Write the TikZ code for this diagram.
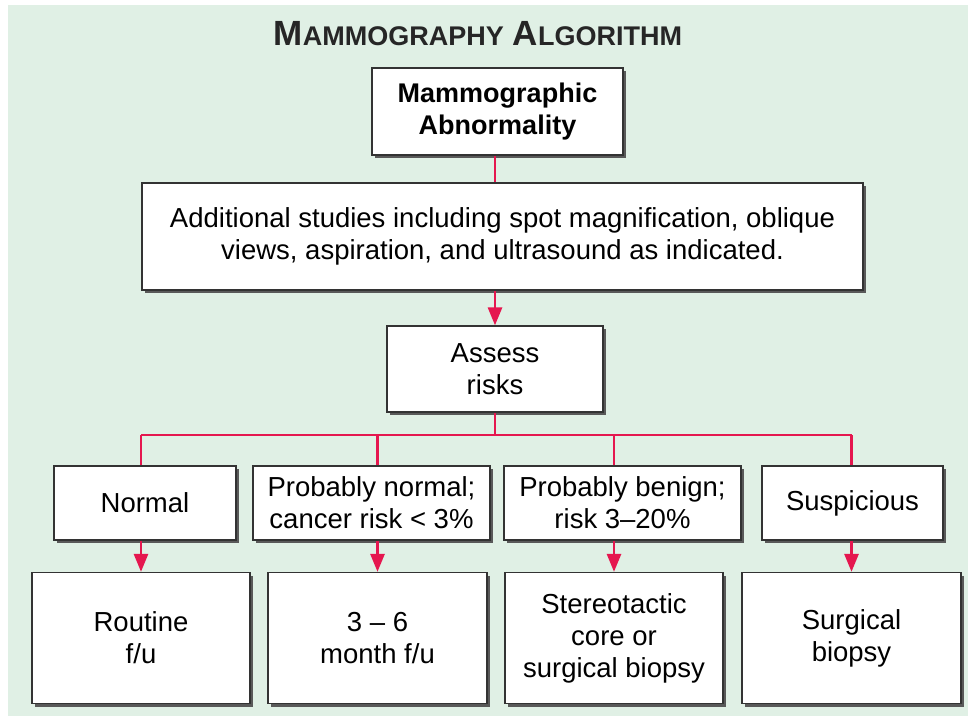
\documentclass[tikz,border=0pt]{standalone}
\usepackage{fontspec}
\setmainfont{Liberation Sans}
\usetikzlibrary{shadows,arrows.meta}
\definecolor{bggreen}{HTML}{E0F0E5}
\definecolor{linkred}{HTML}{E5174F}
\definecolor{boxedge}{HTML}{333333}
\tikzset{
  box/.style={draw=boxedge, fill=white, line width=1.3pt, align=center, inner sep=2pt,
    drop shadow={shadow xshift=3pt, shadow yshift=-3pt, fill=black!65, opacity=1},
    font=\fontsize{27.5}{32}\selectfont},
  link/.style={draw=linkred, line width=2.8pt},
  arr/.style={link, -{Triangle[width=14pt,length=18pt]}},
}
\begin{document}
\begin{tikzpicture}[x=1pt,y=-1pt]
\useasboundingbox (0,0) rectangle (968,719);
\fill[white] (0,0) rectangle (968,719);
\fill[bggreen] (8,5) rectangle (968,716);
\node[font=\bfseries, text=black!85] (title) at (478,34) {{\fontsize{35}{35}\selectfont M}{\fontsize{27}{27}\selectfont AMMOGRAPHY}\hspace{9pt}{\fontsize{35}{35}\selectfont A}{\fontsize{27}{27}\selectfont LGORITHM}};
\node[box, minimum width=251, minimum height=87, font=\fontsize{27}{32}\selectfont\bfseries] (b1) at (497.5,111.5) {Mammographic\\Abnormality};
\node[box, minimum width=721, minimum height=107] (b2) at (502.5,236.5) {Additional studies including spot magnification, oblique\\views, aspiration, and ultrasound as indicated.};
\node[box, minimum width=216, minimum height=86] (b3) at (495,369) {Assess\\risks};
\node[box, minimum width=182, minimum height=74] (n1) at (145,503) {Normal};
\node[box, minimum width=237, minimum height=74] (n2) at (371.5,503) {Probably normal;\\cancer risk < 3\%};
\node[box, minimum width=237, minimum height=74] (n3) at (622.5,503) {Probably benign;\\risk 3–20\%};
\node[box, minimum width=181, minimum height=74] (n4) at (852.5,503) {Suspicious};
\node[box, minimum width=218, minimum height=131] (r1) at (141,638) {Routine\\f/u};
\node[box, minimum width=219, minimum height=131] (r2) at (377.5,638) {3 – 6\\month f/u};
\node[box, minimum width=218, minimum height=131] (r3) at (614,638) {Stereotactic\\core or\\surgical biopsy};
\node[box, minimum width=219, minimum height=131] (r4) at (851.5,638) {Surgical\\biopsy};
\coordinate (bus) at (0,435);
\coordinate (c0) at (495,0);
\draw[link] (c0 |- b1.south) -- (c0 |- b2.north);
\draw[arr] (c0 |- b2.south) -- (c0 |- b3.north);
\draw[link] (c0 |- b3.south) -- (c0 |- bus);
\draw[link] (r1 |- bus) -- (r4 |- bus);
\foreach \i in {1,2,3,4}{
  \draw[link] (r\i |- bus) -- (r\i |- n\i.north);
  \draw[arr] (r\i |- n\i.south) -- (r\i.north);
}
\end{tikzpicture}
\end{document}
